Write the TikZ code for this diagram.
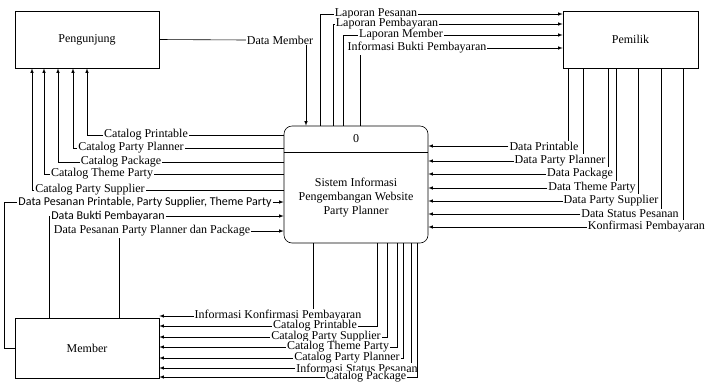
\documentclass[tikz,border=0pt]{standalone}
\usepackage{fontspec}
\setmainfont{Liberation Serif}
\newfontfamily\carlito{Carlito}

\begin{document}
\begin{tikzpicture}[x=1pt,y=-1pt,line width=0.6pt,
    every node/.style={font=\fontsize{12}{14}\selectfont},
    entity/.style={draw,minimum width=#1,minimum height=57pt},
    flow/.style={fill=white,inner sep=0.8pt},
    sans/.style={font=\carlito\fontsize{12}{14}\selectfont}]
  \useasboundingbox (0,0) rectangle (706,381);

  \node[entity=144pt] (pengunjung) at (87,39.5) {Pengunjung};
  \node[entity=135pt] (pemilik) at (630.5,39.5) {Pemilik};
  \node[entity=144pt,minimum height=60pt] (member) at (87,348) {Member};

  \node[draw,rounded corners=8pt,minimum width=144pt,minimum height=117pt] (sistem) at (356,184.5) {};
  \draw (sistem.west |- 0,152) -- (sistem.east |- 0,152);
  \node (nomor) at (356,139) {0};
  \node[align=center] (judul) at (356,198) {Sistem Informasi\\Pengembangan Website\\Party Planner};

  \node[flow] (dmember) at (280,40) {Data Member};
  \draw (pengunjung.east) -- (dmember.west);
  \draw[-latex] (306,0 |- dmember.south) -- (sistem.north -| 306,0);

  \node[flow] (lap1) at (376,14) {Laporan Pesanan};
  \node[flow] (lap2) at (387,24) {Laporan Pembayaran};
  \node[flow] (lap3) at (401,35) {Laporan Member};
  \node[flow] (ibukti) at (417,48) {Informasi Bukti Pembayaran};
  \draw (sistem.north -| 320,0) |- (lap1.west);
  \draw (sistem.north -| 333,0) |- (lap2.west);
  \draw (sistem.north -| 343,0) |- (lap3.west);
  \draw (sistem.north -| 360,0) -- (360,0 |- ibukti.south);
  \draw[-latex] (lap1.east) -- (lap1.east -| pemilik.west);
  \draw[-latex] (lap2.east) -- (lap2.east -| pemilik.west);
  \draw[-latex] (lap3.east) -- (lap3.east -| pemilik.west);
  \draw[-latex] (ibukti.east) -- (ibukti.east -| pemilik.west);

  \node[flow] (cprintable) at (146,135) {Catalog Printable};
  \node[flow] (cplanner) at (131,148) {Catalog Party Planner};
  \node[flow] (cpackage) at (121,162) {Catalog Package};
  \node[flow] (ctheme) at (102,174) {Catalog Theme Party};
  \node[flow] (csupplier) at (90,190) {Catalog Party Supplier};
  \draw (sistem.west |- cprintable) -- (cprintable.east);
  \draw (sistem.west |- cplanner) -- (cplanner.east);
  \draw (sistem.west |- cpackage) -- (cpackage.east);
  \draw (sistem.west |- ctheme) -- (ctheme.east);
  \draw (sistem.west |- csupplier) -- (csupplier.east);
  \draw[-latex] (cprintable.west) -| (pengunjung.south -| 87,0);
  \draw[-latex] (cplanner.west) -| (pengunjung.south -| 73,0);
  \draw[-latex] (cpackage.west) -| (pengunjung.south -| 58,0);
  \draw[-latex] (ctheme.west) -| (pengunjung.south -| 44,0);
  \draw[-latex] (csupplier.west) -| (pengunjung.south -| 32,0);

  \node[flow,sans] (dpesanan) at (145,202) {Data Pesanan Printable, Party Supplier, Theme Party};
  \node[flow,sans] (dbukti) at (108,216) {Data Bukti Pembayaran};
  \node[flow] (dpp) at (152,231) {Data Pesanan Party Planner dan Package};
  \draw (member.west) -- ([xshift=-10pt]member.west) |- (dpesanan.west);
  \draw (member.north -| 49,0) |- (dbukti.west);
  \draw (member.north -| 119,0) -- (119,0 |- dpp.south);
  \draw[-latex] (dpesanan.east) -- (dpesanan.east -| sistem.west);
  \draw[-latex] (dbukti.east) -- (dbukti.east -| sistem.west);
  \draw[-latex] (dpp.east) -- (dpp.east -| sistem.west);

  \node[flow] (dprintable) at (544,146) {Data Printable};
  \node[flow] (dplanner) at (560,161) {Data Party Planner};
  \node[flow] (dpackage) at (580,174) {Data Package};
  \node[flow] (dtheme) at (592,188) {Data Theme Party};
  \node[flow] (dsupplier) at (611,201) {Data Party Supplier};
  \node[flow] (dstatus) at (630,214) {Data Status Pesanan};
  \node[flow,anchor=east] (konfirmasi) at (706,227) {Konfirmasi Pembayaran};
  \draw (pemilik.south -| 568,0) -- (568,0 |- dprintable.north);
  \draw (pemilik.south -| 583,0) -- (583,0 |- dplanner.north);
  \draw (pemilik.south -| 608,0) -- (608,0 |- dpackage.north);
  \draw (pemilik.south -| 616,0) -- (616,0 |- dtheme.north);
  \draw (pemilik.south -| 638,0) -- (638,0 |- dsupplier.north);
  \draw (pemilik.south -| 661,0) -- (661,0 |- dstatus.north);
  \draw (pemilik.south -| 683,0) -- (683,0 |- konfirmasi.north);
  \draw[-latex] (dprintable.west) -- (dprintable.west -| sistem.east);
  \draw[-latex] (dplanner.west) -- (dplanner.west -| sistem.east);
  \draw[-latex] (dpackage.west) -- (dpackage.west -| sistem.east);
  \draw[-latex] (dtheme.west) -- (dtheme.west -| sistem.east);
  \draw[-latex] (dsupplier.west) -- (dsupplier.west -| sistem.east);
  \draw[-latex] (dstatus.west) -- (dstatus.west -| sistem.east);
  \draw[-latex] (konfirmasi.west) -- (konfirmasi.west -| sistem.east);

  \node[flow] (ikonfirmasi) at (278,316) {Informasi Konfirmasi Pembayaran};
  \node[flow] (mprintable) at (315,326) {Catalog Printable};
  \node[flow] (msupplier) at (326,337) {Catalog Party Supplier};
  \node[flow] (mtheme) at (338,347) {Catalog Theme Party};
  \node[flow] (mplanner) at (347,358) {Catalog Party Planner};
  \node[flow] (istatus) at (357,368) {Informasi Status Pesanan};
  \node[flow] (mpackage) at (366,377) {Catalog Package};
  \draw (sistem.south -| 313,0) -- (313,0 |- ikonfirmasi.north);
  \draw (sistem.south -| 377,0) |- (mprintable.east);
  \draw (sistem.south -| 387,0) |- (msupplier.east);
  \draw (sistem.south -| 397,0) |- (mtheme.east);
  \draw (sistem.south -| 403,0) |- (mplanner.east);
  \draw (sistem.south -| 411,0) -- (411,0 |- istatus.north);
  \draw (sistem.south -| 417,0) |- (mpackage.east);
  \draw[-latex] (ikonfirmasi.west) -- (ikonfirmasi.west -| member.east);
  \draw[-latex] (mprintable.west) -- (mprintable.west -| member.east);
  \draw[-latex] (msupplier.west) -- (msupplier.west -| member.east);
  \draw[-latex] (mtheme.west) -- (mtheme.west -| member.east);
  \draw[-latex] (mplanner.west) -- (mplanner.west -| member.east);
  \draw[-latex] (istatus.west) -- (istatus.west -| member.east);
  \draw[-latex] (mpackage.west) -- (mpackage.west -| member.east);
\end{tikzpicture}
\end{document}
